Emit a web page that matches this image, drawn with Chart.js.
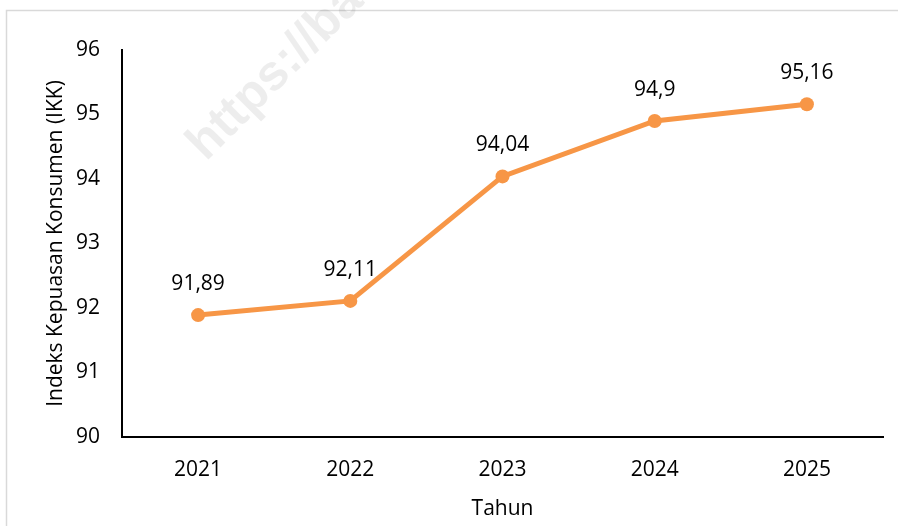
<!DOCTYPE html>
<html><head><meta charset="utf-8">
<script src="https://cdn.jsdelivr.net/npm/chart.js@4.4.1/dist/chart.umd.min.js"></script>
<style>html,body{margin:0;padding:0;background:#fff}#wrap{width:898px;height:526px;position:relative}</style>
</head><body><div id="wrap"><canvas id="c" width="898" height="526"></canvas></div>
<script>
const years = ['2021', '2022', '2023', '2024', '2025'];
const ikkValues = [91.89, 92.11, 94.04, 94.9, 95.16];
const yMin = 90;
const yMax = 96;
const xTitle = 'Tahun';
const yTitle = 'Indeks Kepuasan Konsumen (IKK)';
const watermarkText = 'https://ba';

const FONT = "'Open Sans', sans-serif";
const FS = 21;
const ORANGE = '#F79646';

const bgPlugin = {
  id: 'bg',
  beforeDraw(chart) {
    const ctx = chart.ctx;
    ctx.save();
    ctx.fillStyle = '#fff';
    ctx.fillRect(0, 0, chart.width, chart.height);
    ctx.strokeStyle = '#d9d9d9';
    ctx.lineWidth = 1.5;
    ctx.strokeRect(6.5, 10.5, chart.width + 10, chart.height + 10);
    // watermark
    ctx.translate(206, 162);
    ctx.rotate(-Math.PI / 4);
    ctx.fillStyle = 'rgba(0,0,0,0.07)';
    ctx.font = "bold 50px 'Liberation Sans', sans-serif";
    ctx.textBaseline = 'alphabetic';
    ctx.textAlign = 'left';
    ctx.fillText(watermarkText, 0, 0);
    ctx.restore();
  }
};

const labelPlugin = {
  id: 'pointLabels',
  afterDatasetsDraw(chart) {
    const ctx = chart.ctx;
    const meta = chart.getDatasetMeta(0);
    ctx.save();
    ctx.fillStyle = '#000';
    ctx.font = FS + 'px ' + FONT;
    ctx.textAlign = 'center';
    ctx.textBaseline = 'middle';
    meta.data.forEach((pt, i) => {
      const txt = String(ikkValues[i]).replace('.', ',');
      ctx.fillText(txt, pt.x, pt.y - 31);
    });
    ctx.restore();
  }
};

new Chart(document.getElementById('c'), {
  type: 'line',
  data: {
    labels: years,
    datasets: [{
      data: ikkValues,
      borderColor: ORANGE,
      backgroundColor: ORANGE,
      borderWidth: 5,
      pointRadius: 7,
      pointBackgroundColor: ORANGE,
      pointBorderColor: ORANGE,
      pointBorderWidth: 0,
      tension: 0,
      fill: false
    }]
  },
  options: {
    responsive: false,
    animation: false,
    devicePixelRatio: 1,
    layout: { padding: { left: 6, top: 50, right: 15, bottom: 0 } },
    plugins: { legend: { display: false }, tooltip: { enabled: false } },
    scales: {
      x: {
        type: 'category',
        offset: true,
        grid: { display: false, drawTicks: false },
        border: { display: true, color: '#000', width: 2 },
        ticks: { color: '#000', font: { family: FONT, size: FS }, padding: 20, maxRotation: 0 },
        title: { display: true, text: xTitle, color: '#000', font: { family: FONT, size: FS }, padding: { top: 0, bottom: 4 } },
        afterFit(scale) { scale.height = 89; }
      },
      y: {
        min: yMin,
        max: yMax,
        grid: { display: false, drawTicks: false },
        border: { display: true, color: '#000', width: 2 },
        ticks: { stepSize: 1, color: '#000', font: { family: FONT, size: FS }, padding: 22 },
        title: { display: true, text: yTitle, color: '#000', font: { family: FONT, size: FS }, padding: { top: 37, bottom: 0 } },
        afterFit(scale) { scale.width = 116; }
      }
    }
  },
  plugins: [bgPlugin, labelPlugin]
});
</script>
</body></html>
